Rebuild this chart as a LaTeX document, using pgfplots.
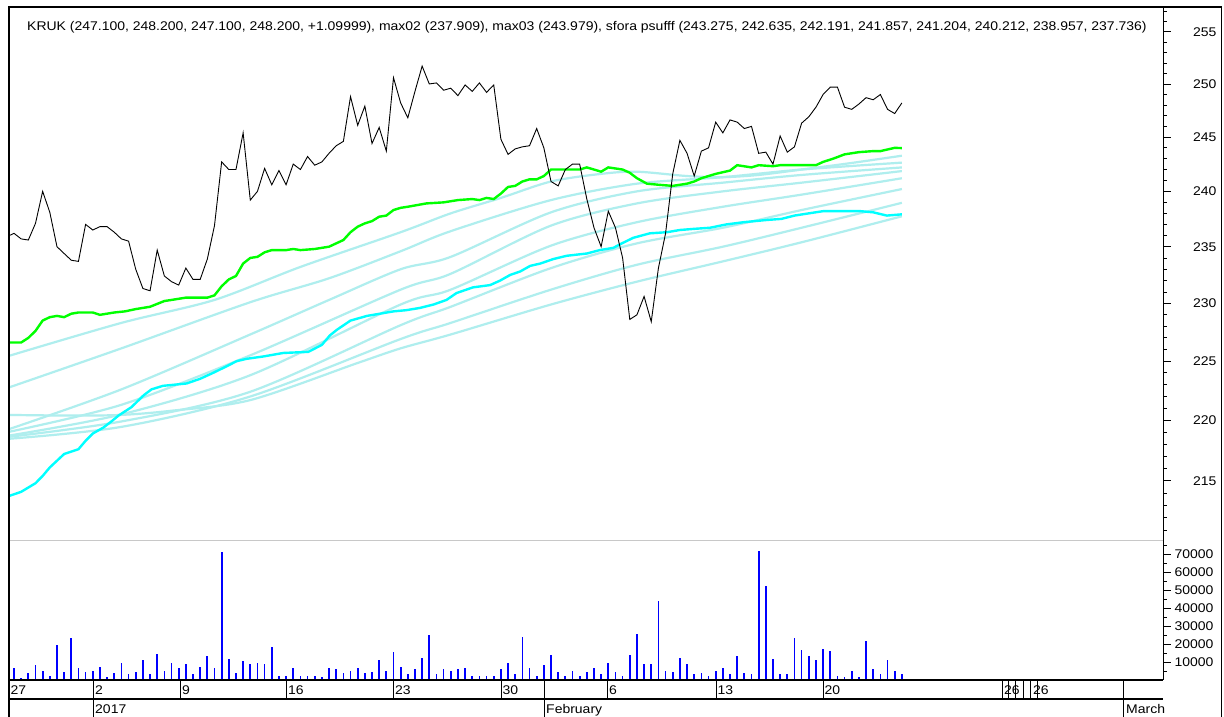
\documentclass[border=0pt]{standalone}
\usepackage{fontspec}
\setmainfont{Liberation Sans}[FakeStretch=1.11]
\usepackage{pgfplots}
\usepackage{pgfplotstable}
\pgfplotsset{compat=1.18}

\definecolor{palecyan}{RGB}{175,238,238}
\definecolor{maxgreen}{RGB}{0,255,0}
\definecolor{maxcyan}{RGB}{0,255,255}
\definecolor{volblue}{RGB}{0,0,255}
\definecolor{sepgray}{RGB}{200,200,200}

\newcommand{\chartfont}{\fontsize{12.6}{14}\selectfont}

% KRUK close, one value per bar index
\pgfplotstableread{
i close
-1 235.9
0 236.2
1 235.7
2 235.6
3 237.1
4 240.0
5 238.1
6 235.0
7 234.4
8 233.8
9 233.7
10 237.0
11 236.5
12 236.8
13 236.8
14 236.3
15 235.7
16 235.5
17 233.0
18 231.3
19 231.1
20 234.7
21 232.4
22 231.9
23 231.6
24 233.1
25 232.1
26 232.1
27 233.9
28 236.9
29 242.7
30 242.0
31 242.0
32 245.4
33 239.2
34 240.0
35 242.1
36 240.6
37 241.9
38 240.6
39 242.5
40 242.0
41 243.2
42 242.4
43 242.7
44 243.5
45 244.2
46 244.6
47 248.8
48 246.1
49 247.9
50 244.4
51 245.9
52 243.7
53 250.6
54 248.2
55 246.8
56 249.3
57 251.7
58 250.0
59 250.1
60 249.4
61 249.6
62 248.9
63 249.9
64 249.3
65 250.1
66 249.2
67 249.9
68 244.8
69 243.4
70 243.9
71 244.1
72 244.2
73 245.8
74 244.0
75 240.9
76 240.5
77 242.0
78 242.5
79 242.5
80 239.3
81 236.7
82 235.0
83 238.2
84 236.7
85 234.0
86 228.6
87 229.0
88 230.6
89 228.4
90 233.1
91 236.2
92 241.6
93 244.7
94 243.5
95 241.4
96 243.7
97 244.0
98 246.4
99 245.4
100 246.6
101 246.4
102 245.8
103 246.0
104 243.5
105 243.6
106 242.5
107 245.1
108 243.6
109 244.1
110 246.3
111 246.9
112 247.8
113 249.0
114 249.7
115 249.7
116 247.8
117 247.6
118 248.1
119 248.7
120 248.5
121 249.0
122 247.6
123 247.2
124 248.2
}\closetbl

% volume per bar index
\pgfplotstableread{
i vol
0 6850
1 1300
2 3700
3 8150
4 5200
5 2400
6 19650
7 4450
8 23300
9 6650
10 4450
11 5200
12 7400
13 1650
14 3700
15 9650
16 3150
17 4450
18 11100
19 3150
20 14650
21 5200
22 9650
23 6650
24 8900
25 3150
26 7400
27 13150
28 6650
29 71100
30 11650
31 3700
32 10350
33 8900
34 9650
35 8900
36 18150
37 2400
38 2400
39 6650
40 2400
41 2400
42 2400
43 1650
44 6650
45 5900
46 3700
47 5200
48 6650
49 3700
50 4450
51 10900
52 5200
53 15350
54 7400
55 3150
56 5900
57 12400
58 25200
59 3150
60 5900
61 5200
62 5900
63 6650
64 2400
65 2400
66 2400
67 2400
68 5900
69 9650
70 3150
71 23900
72 6650
73 2400
74 8150
75 13900
76 4450
77 2400
78 5200
79 2400
80 4450
81 6650
82 3150
83 9650
84 4450
85 2400
86 13900
87 25900
88 8900
89 8900
90 43900
91 5200
92 4450
93 12400
94 8900
95 3150
96 3700
97 2400
98 5200
99 6650
100 3150
101 13150
102 3700
103 3150
104 71850
105 52600
106 11650
107 3150
108 3150
109 23150
110 16650
111 13150
112 11100
113 17400
114 15900
115 2400
116 1650
117 5200
118 1650
119 21650
120 5900
121 3150
122 11100
123 5200
124 3150
}\voltbl

\begin{document}
\begin{tikzpicture}
\useasboundingbox (0pt,0pt) rectangle (1224pt,717pt);
\fill[white] (0pt,0pt) rectangle (1224pt,717pt);

% price panel
\begin{axis}[
  at={(10pt,176pt)}, anchor=south west,
  scale only axis, width=1153pt, height=533pt,
  xmin=-0.56, xmax=160.47,
  ymode=log, ymin=210.15, ymax=257.34,
  axis x line=none, axis y line*=right,
  y axis line style={-, line width=0.8pt},
  ytick={215,220,225,230,235,240,245,250,255},
  yticklabels={215,220,225,230,235,240,245,250,255},
  minor ytick={211,212,213,214,216,217,218,219,221,222,223,224,226,227,228,229,
    231,232,233,234,236,237,238,239,241,242,243,244,246,247,248,249,251,252,253,254,256,257},
  tick align=outside,
  major tick length=8pt, minor tick length=4pt,
  tick style={black, line width=0.8pt},
  yticklabel style={font=\chartfont, anchor=east, xshift=49pt},
]
% sfora psufff ribbon
\addplot[palecyan, line width=2.2pt, smooth] coordinates {(-1,225.4) (15,228.3) (28,230.3) (40,233.2) (54,236.3) (61,238.0) (68,239.4) (75,240.9) (82,241.6) (87,241.8) (94,241.4) (99,241.3) (104,241.5) (110,242.0) (117,242.6) (124,243.275)};
\addplot[palecyan, line width=2.2pt, smooth] coordinates {(-1,222.7) (15,226.1) (33,230.1) (44,232.2) (54,234.6) (61,236.4) (75,239.2) (87,240.7) (99,241.3) (110,242.0) (124,242.635)};
\addplot[palecyan, line width=2.2pt, smooth] coordinates {(-1,219.2) (15,222.6) (33,227.3) (44,230.3) (54,233.0) (61,234.1) (75,238.1) (87,240.0) (99,240.8) (110,241.5) (124,242.191)};
\addplot[palecyan, line width=2.2pt, smooth] coordinates {(-1,219.0) (15,221.3) (33,225.5) (54,231.2) (61,232.6) (75,236.9) (87,238.9) (99,240.0) (110,240.8) (124,241.857)};
\addplot[palecyan, line width=2.2pt, smooth] coordinates {(-1,218.7) (15,220.5) (33,223.8) (54,229.9) (61,231.2) (75,235.1) (87,237.2) (99,238.6) (110,239.7) (124,241.204)};
\addplot[palecyan, line width=2.2pt, smooth] coordinates {(-1,218.6) (15,219.9) (33,222.4) (54,228.1) (61,229.7) (75,233.1) (87,235.3) (99,236.7) (110,238.3) (124,240.212)};
\addplot[palecyan, line width=2.2pt, smooth] coordinates {(-1,218.45) (15,219.45) (33,222.0) (54,226.9) (61,228.3) (75,231.2) (87,233.4) (99,235.0) (110,236.7) (124,238.957)};
\addplot[palecyan, line width=2.2pt, smooth] coordinates {(-1,220.45) (8,220.4) (15,220.45) (22,220.8) (33,221.7) (48,224.85) (54,226.1) (61,227.3) (75,229.9) (87,231.9) (99,233.7) (110,235.4) (124,237.736)};
% max03
\addplot[maxgreen, line width=2.4pt] coordinates {(-1,226.6) (1,226.6) (2,227.0) (3,227.6) (4,228.5) (5,228.8) (6,228.9) (7,228.8) (8,229.1) (9,229.2) (11,229.2) (12,229.0) (14,229.2) (15.5,229.3) (17,229.5) (19,229.7) (21,230.2) (22,230.3) (24,230.5) (27,230.5) (28,230.7) (29,231.5) (30,232.1) (31,232.4) (32,233.5) (33,234.0) (34,234.1) (35,234.5) (36,234.7) (38,234.7) (39,234.8) (40,234.7) (42,234.8) (44,235.0) (45,235.3) (46,235.6) (47,236.3) (48,236.8) (49,237.1) (50,237.3) (51,237.7) (52,237.8) (53,238.3) (54,238.5) (55,238.6) (57.6,238.9) (60,239.0) (62,239.2) (64,239.3) (65,239.2) (66,239.4) (67,239.3) (68,239.8) (69,240.4) (70,240.5) (71,240.9) (72,241.1) (73,241.1) (74,241.4) (75,242.0) (76,242.0) (77,242.0) (79,242.0) (80,242.2) (81,242.0) (82,241.8) (83,242.2) (85,242.0) (86,241.7) (87,241.2) (88.4,240.7) (90,240.6) (92,240.5) (94,240.7) (95,240.9) (96,241.2) (97,241.4) (98,241.6) (100,241.9) (101,242.4) (103,242.2) (104,242.4) (106,242.3) (107,242.4) (112,242.4) (113,242.7) (114.4,243.0) (116,243.4) (118,243.6) (120,243.7) (121,243.7) (123,244.0) (124,243.979)};
% max02
\addplot[maxcyan, line width=2.4pt] coordinates {(-1,213.7) (1,214.1) (3,214.8) (4,215.4) (5,216.1) (7,217.2) (9,217.6) (10,218.3) (11,218.9) (12.5,219.4) (13.6,219.9) (14.6,220.4) (16.4,221.1) (18.1,222.1) (19.2,222.6) (20.8,222.9) (24.1,223.1) (26,223.5) (27.8,224.0) (29.5,224.5) (31.1,225.0) (32.5,225.2) (34.8,225.4) (37.6,225.7) (41.1,225.8) (43,226.4) (44.1,227.2) (45.1,227.7) (47,228.5) (49.3,228.9) (51.1,229.1) (53,229.3) (54.8,229.4) (56.7,229.6) (58.6,229.9) (60.4,230.3) (61.8,230.9) (64.1,231.4) (66.5,231.6) (67.9,232.0) (69.3,232.5) (70.7,232.8) (72.1,233.3) (73.5,233.5) (75.3,233.9) (77.2,234.2) (80,234.4) (81.8,234.7) (83.7,234.9) (84.9,235.3) (86.5,235.8) (88.8,236.2) (91.2,236.3) (93,236.5) (94.9,236.6) (97.2,236.7) (99.5,237.0) (101.9,237.2) (105.1,237.4) (107.2,237.5) (109,237.8) (113,238.2) (118.2,238.2) (120,238.1) (121.9,237.8) (124,237.909)};
% KRUK
\addplot[black, line width=0.9pt] table[x=i, y=close] {\closetbl};
\end{axis}

% volume panel
\begin{axis}[
  at={(10pt,37pt)}, anchor=south west,
  scale only axis, width=1153pt, height=139pt,
  xmin=-0.56, xmax=160.47,
  ymin=0, ymax=77500,
  axis x line=none, axis y line*=right,
  y axis line style={-, line width=0.8pt},
  ytick={10000,20000,30000,40000,50000,60000,70000},
  yticklabels={10000,20000,30000,40000,50000,60000,70000},
  minor ytick={5000,15000,25000,35000,45000,55000,65000,75000},
  scaled y ticks=false,
  tick align=outside,
  major tick length=8pt, minor tick length=4pt,
  tick style={black, line width=0.8pt},
  yticklabel style={font=\chartfont, anchor=east, xshift=46pt},
]
\addplot[ycomb, volblue, line width=1.7pt] table[x=i, y=vol] {\voltbl};
\end{axis}

% panel separator and frame
\draw[sepgray, line width=1pt] (10pt,176pt) -- (1163pt,176pt);
\draw[black, line width=2pt] (8.5pt,0pt) -- (8.5pt,710pt);
\draw[black, line width=1.2pt] (8pt,710pt) -- (1221.5pt,710pt) -- (1221.5pt,0pt);

% legend line
\node[font=\chartfont, anchor=base west, inner sep=0pt] at (27pt,686pt)
  {KRUK (247.100, 248.200, 247.100, 248.200, +1.09999), max02 (237.909), max03 (243.979), sfora psufff (243.275, 242.635, 242.191, 241.857, 241.204, 240.212, 238.957, 237.736)};

% date axis
\draw[black, line width=1.2pt] (8pt,37pt) -- (1163pt,37pt);
\draw[black, line width=1.2pt] (8pt,18pt) -- (1163pt,18pt);
\foreach \xx in {93.5,544,1123.5} \draw[black, line width=1pt] (\xx pt,37pt) -- (\xx pt,0pt);
\foreach \xx in {180,286.5,393.5,501,607.5,716,823,1002.5,1008,1015,1023.5,1030,1037.5}
  \draw[black, line width=1pt] (\xx pt,37pt) -- (\xx pt,18pt);
\foreach \xx/\lab in {10.5/27,95/2,182/9,288/16,395/23,502.5/30,609/6,717.5/13,824.5/20,1004/26,1033/26}
  \node[font=\chartfont, anchor=base west, inner sep=0pt] at (\xx pt,22pt) {\lab};
\foreach \xx/\lab in {95/2017,546/February,1126/March}
  \node[font=\chartfont, anchor=base west, inner sep=0pt] at (\xx pt,3pt) {\lab};
\end{tikzpicture}
\end{document}
